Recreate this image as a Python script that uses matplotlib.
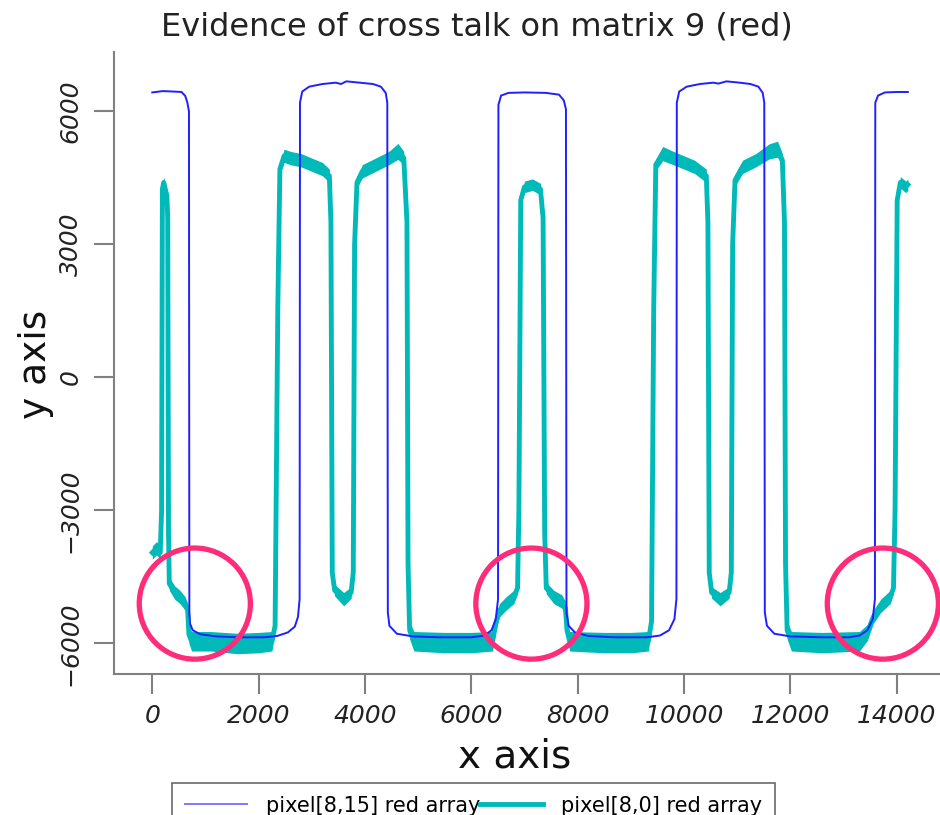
import matplotlib
matplotlib.use("Agg")
import matplotlib.pyplot as plt

# pixel[8,15] red array
blue_x = [0, 200, 400, 550, 620, 660, 690, 697, 710, 760, 900, 1200, 1600, 2100,
          2350, 2550, 2680, 2740, 2771, 2778, 2820, 2950, 3200, 3450, 3550, 3650,
          3900, 4150, 4300, 4390, 4420, 4430, 4460, 4600, 4900, 5400, 6000, 6250,
          6380, 6460, 6503, 6510, 6560, 6700, 7000, 7400, 7650, 7740, 7780, 7790,
          7830, 7950, 8200, 8700, 9300, 9550, 9720, 9820, 9858, 9865, 9910, 10050,
          10300, 10550, 10650, 10800, 11050, 11250, 11400, 11480, 11510, 11520,
          11560, 11700, 12000, 12600, 13100, 13300, 13450, 13550, 13591, 13598,
          13650, 13780, 14000, 14210]
blue_y = [6430, 6460, 6450, 6440, 6350, 6200, 6000, -5300, -5550, -5700, -5790,
          -5840, -5860, -5860, -5830, -5750, -5620, -5400, -5000, 6200, 6450,
          6560, 6620, 6650, 6620, 6680, 6650, 6620, 6560, 6420, 6200, -5300,
          -5600, -5780, -5840, -5860, -5860, -5820, -5700, -5450, -5000, 6150,
          6360, 6420, 6430, 6420, 6380, 6250, 6050, -5300, -5600, -5750, -5830,
          -5860, -5860, -5820, -5700, -5450, -5000, 6200, 6450, 6560, 6620, 6650,
          6630, 6680, 6650, 6620, 6560, 6420, 6200, -5300, -5600, -5780, -5840,
          -5860, -5860, -5820, -5700, -5450, -5000, 6200, 6360, 6430, 6440, 6440]

# pixel[8,0] red array and the half-height of its noise band
teal_x = [0, 80, 150, 175, 190, 215, 245, 275, 290, 305,
          320, 420, 520, 620, 665, 690, 740, 1100, 1600, 2000,
          2250, 2310, 2360, 2400, 2480, 2600, 2800, 3000, 3200, 3330,
          3360, 3385, 3430, 3600, 3740, 3780, 3805, 3850, 3950, 4200,
          4450, 4620, 4730, 4790, 4810, 4840, 4920, 5500, 6000, 6400,
          6460, 6530, 6650, 6800, 6870, 6895, 6930, 7000, 7150, 7300,
          7350, 7380, 7410, 7550, 7700, 7770, 7800, 7850, 8500, 9000,
          9330, 9390, 9430, 9470, 9600, 9800, 10000, 10200, 10420, 10450,
          10475, 10520, 10680, 10850, 10890, 10915, 10960, 11100, 11350, 11600,
          11760, 11850, 11890, 11910, 11940, 12020, 12600, 13300, 13450, 13560,
          13700, 13880, 13940, 13970, 14010, 14070, 14170, 14210]
teal_y = [-3950, -3850, -3950, -3000, 4250, 4400, 4250, 4100, 3600, -3500,
          -4650, -4850, -4950, -5100, -5250, -5800, -5950, -5950, -6000, -5980,
          -5950, -5600, 1500, 4700, 5000, 4950, 4900, 4800, 4700, 4550,
          3500, -4400, -4800, -5000, -4850, -4400, 3000, 4400, 4650, 4800,
          4950, 5100, 4950, 3500, -4200, -5700, -5950, -5980, -5980, -5950,
          -5550, -5250, -5100, -4950, -4750, -3000, 4000, 4300, 4350, 4250,
          3600, -3500, -4750, -4950, -5050, -5200, -5700, -5950, -5980, -5980,
          -5950, -5500, 1500, 4800, 5050, 4950, 4850, 4750, 4550, 3500,
          -4400, -4850, -5000, -4850, -4400, 3000, 4450, 4750, 4900, 5100,
          5150, 4900, 3500, -4200, -5700, -5950, -5980, -5950, -5750, -5400,
          -5150, -4950, -4750, -3000, 4000, 4400, 4300, 4350]
teal_spread = [150, 150, 150, 60, 100, 120, 120, 100, 60, 60,
               150, 150, 150, 150, 150, 200, 220, 220, 230, 230,
               220, 150, 60, 120, 150, 150, 150, 150, 150, 150,
               60, 100, 130, 150, 130, 100, 60, 120, 150, 150,
               150, 180, 150, 60, 60, 200, 220, 230, 230, 220,
               180, 150, 150, 150, 130, 60, 100, 130, 130, 130,
               60, 60, 130, 150, 150, 150, 200, 220, 230, 230,
               220, 150, 60, 130, 160, 150, 150, 150, 150, 60,
               100, 130, 150, 130, 100, 60, 130, 150, 150, 170,
               180, 150, 60, 60, 200, 220, 230, 220, 180, 150,
               150, 150, 130, 60, 100, 130, 130, 130]

# highlighted cross-talk regions
circle_x = [800, 7130, 13740]
circle_y = [-5100, -5100, -5100]

xticks = [0, 2000, 4000, 6000, 8000, 10000, 12000, 14000]
yticks = [-6000, -3000, 0, 3000, 6000]

blue = "#1f1fff"
teal = "#00b9b9"
pink = "#fe2c79"
grey = "#808080"

fig = plt.figure(figsize=(9.4, 8.15), dpi=100)
ax = fig.add_axes([114 / 940, 1 - 674 / 815, 1 - 114 / 940, (674 - 52) / 815])

ax.fill_between(teal_x, [y - s for y, s in zip(teal_y, teal_spread)],
                [y + s for y, s in zip(teal_y, teal_spread)],
                color=teal, linewidth=0)
ax.plot(blue_x, blue_y, color=blue, lw=1.4, label="pixel[8,15] red array", zorder=3)
ax.plot(teal_x, teal_y, color=teal, lw=3.5, label="pixel[8,0] red array", zorder=2)
ax.scatter(circle_x, circle_y, s=6400, facecolors="none", edgecolors=pink,
           linewidths=3.8, zorder=5, clip_on=False)

ax.set_xlim(-720, 14815)
ax.set_ylim(-6688, 7342)
ax.set_xticks(xticks)
ax.set_yticks(yticks)
ax.set_xticklabels([str(v) for v in xticks], fontsize=18, style="italic")
ax.set_yticklabels([str(v).replace("-", "\u2212") for v in yticks], fontsize=18,
                   style="italic", rotation=90, va="center")

for side in ["top", "right"]:
    ax.spines[side].set_visible(False)
for side in ["left", "bottom"]:
    ax.spines[side].set_color(grey)
    ax.spines[side].set_linewidth(1.5)
ax.tick_params(length=14.5, width=1.5, color=grey, labelcolor="#222222")
ax.tick_params(axis="x", pad=7)
ax.tick_params(axis="y", pad=8)

fig.text(477 / 940, 1 - 27 / 815, "Evidence of cross talk on matrix 9 (red)",
         ha="center", va="center", fontsize=23, color="#222222")
fig.text(515 / 940, 1 - 757 / 815, "x axis", ha="center", va="center",
         fontsize=28, color="#111111")
fig.text(36 / 940, 1 - 364 / 815, "y axis", ha="center", va="center",
         fontsize=27, rotation=90, color="#111111")

leg = fig.legend(loc="upper left", bbox_to_anchor=(172 / 940, 1 - 783 / 815),
                 ncol=2, fontsize=15, frameon=True, fancybox=False,
                 borderaxespad=0, columnspacing=0, handlelength=3.0,
                 handletextpad=0.9, borderpad=0.6)
leg.get_frame().set_edgecolor("#444444")
leg.get_frame().set_linewidth(1.2)
leg.legend_handles[0].set_alpha(0.6)

fig.savefig("out.png", dpi=100)
